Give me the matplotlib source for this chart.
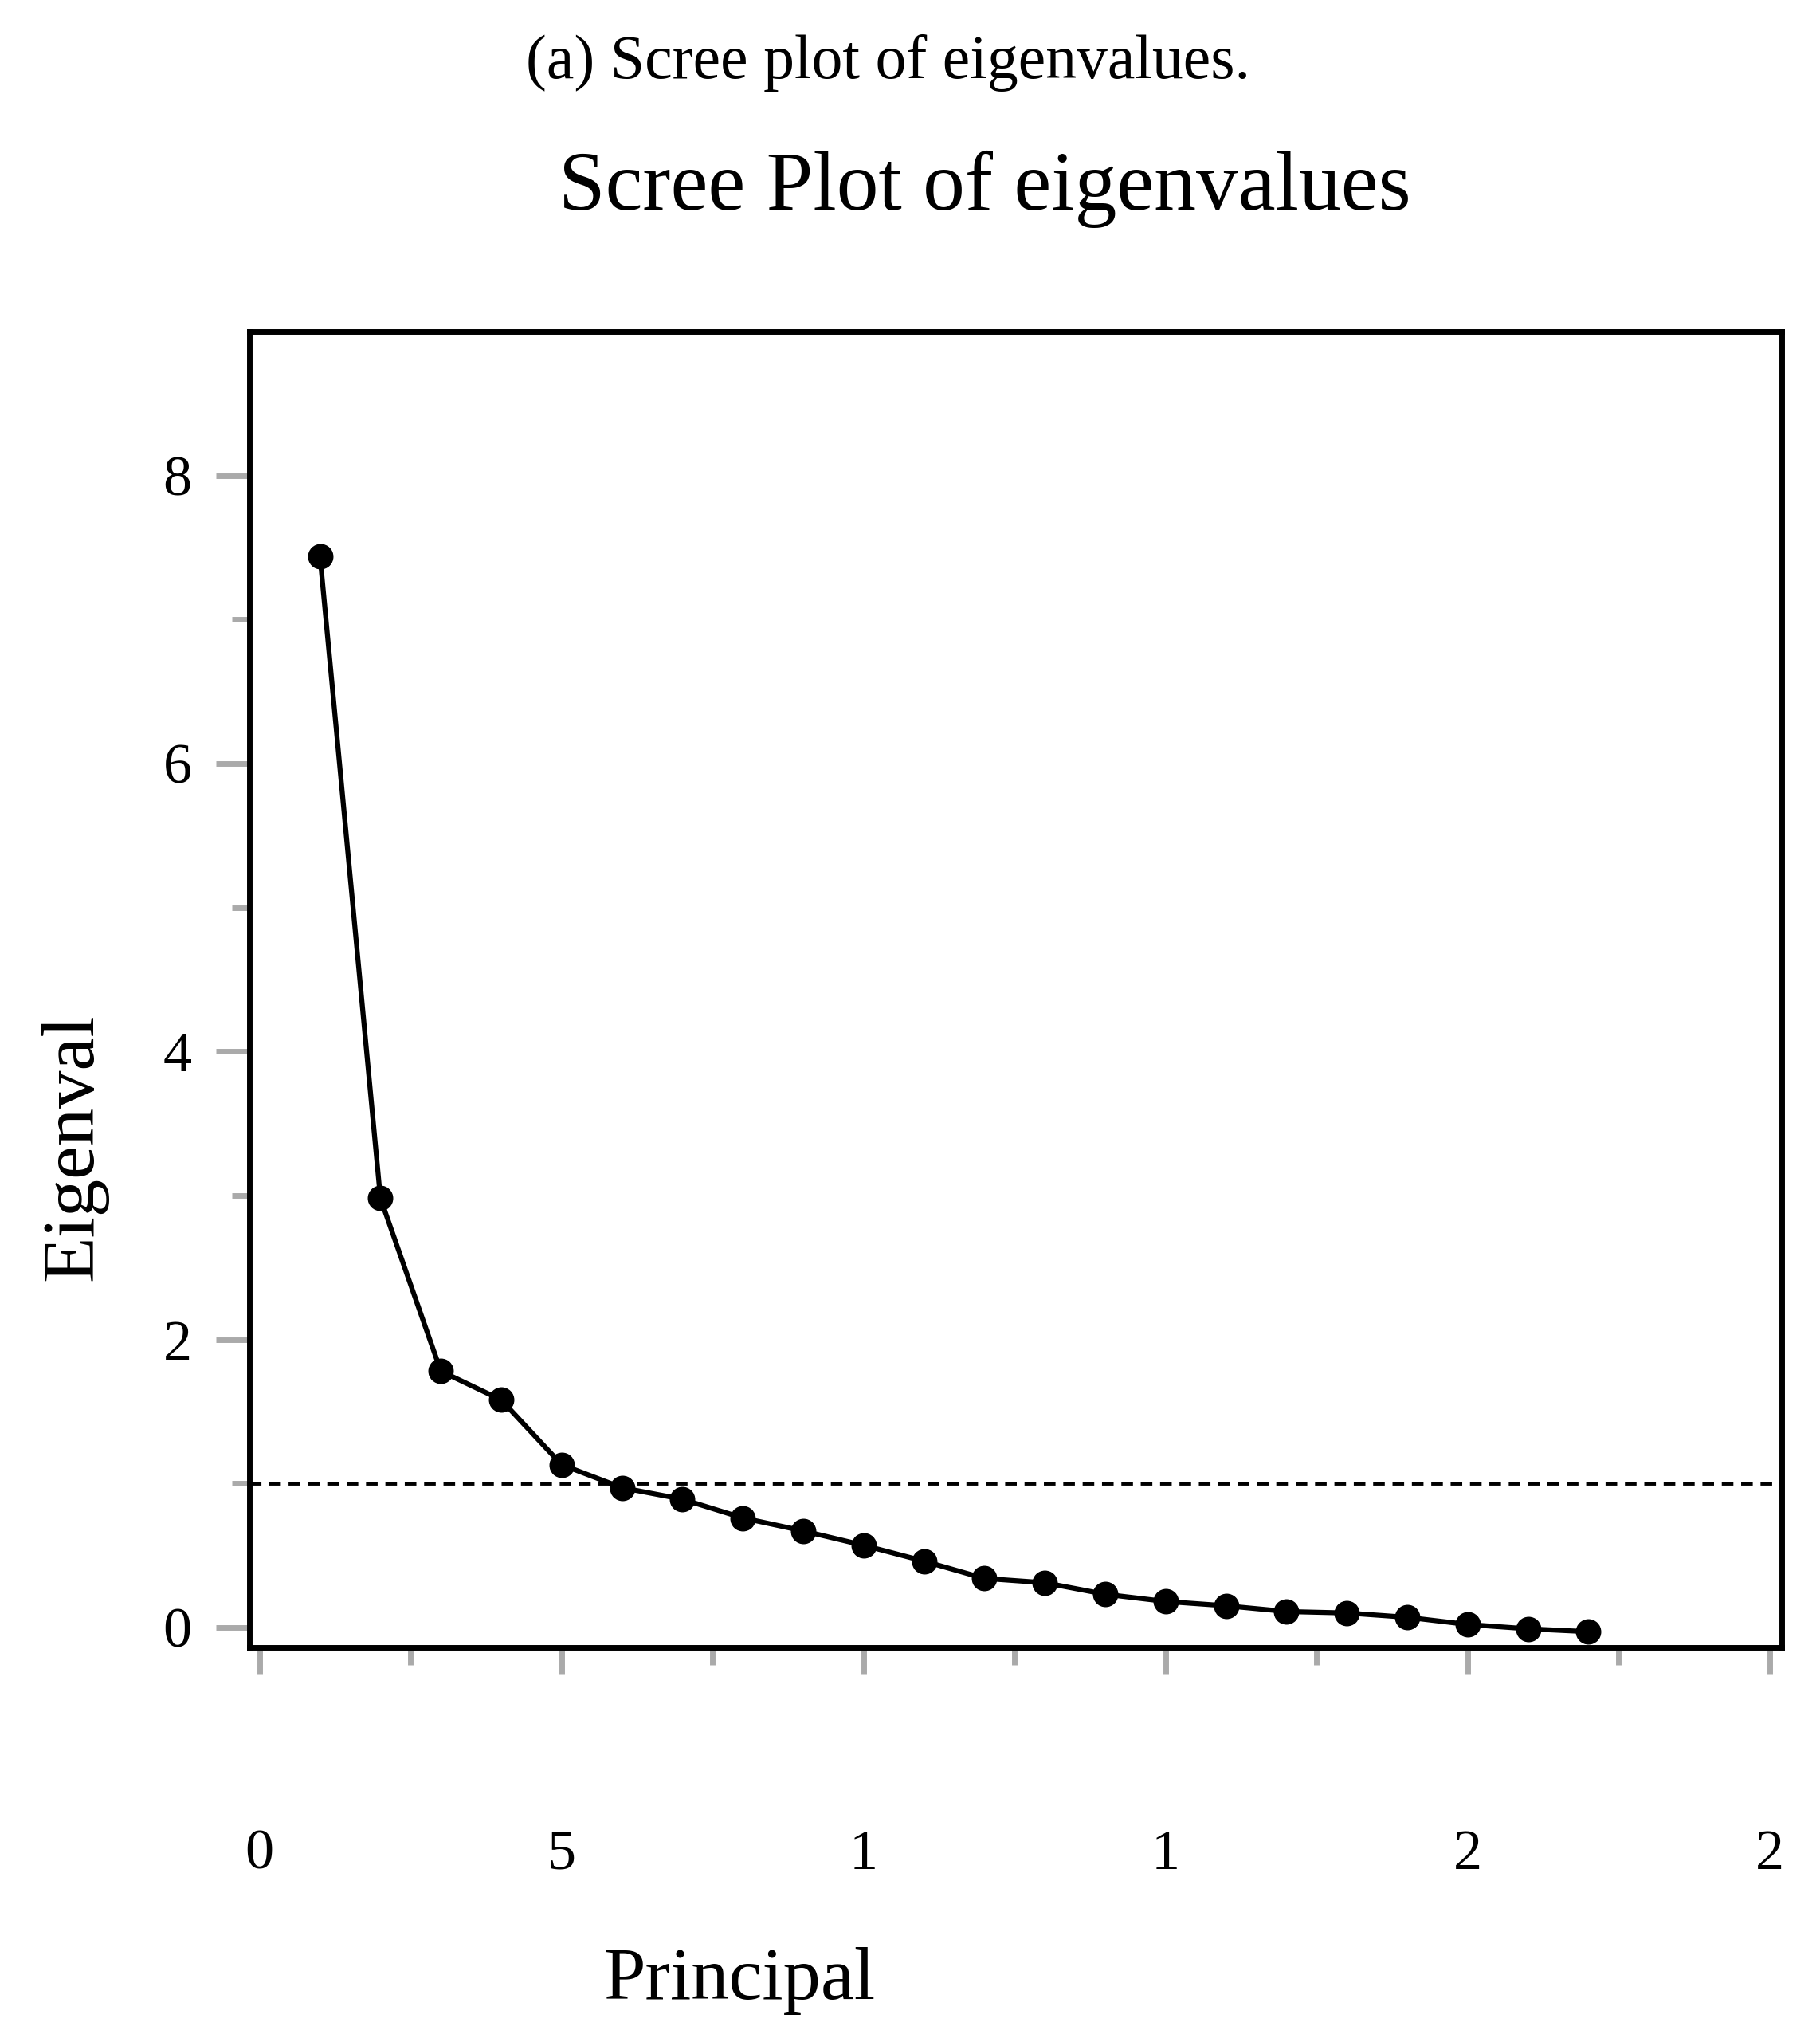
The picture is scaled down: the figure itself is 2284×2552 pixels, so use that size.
import matplotlib
matplotlib.use("Agg")
import matplotlib.pyplot as plt

# scree data
components = list(range(1, 23))
eigenvalues = [7.44, 2.98, 1.78, 1.58, 1.13, 0.97, 0.89, 0.76, 0.67, 0.57, 0.46,
               0.34, 0.31, 0.23, 0.18, 0.15, 0.11, 0.10, 0.07, 0.02, -0.01, -0.03]
xticks = [0, 5, 10, 15, 20, 25]
xtick_labels = ["0", "5", "1", "1", "2", "2"]
yticks = [0, 2, 4, 6, 8]

plt.rcParams['font.family'] = ['Liberation Serif', 'DejaVu Serif']

fig = plt.figure(figsize=(22.84, 25.52), dpi=100)
ax = fig.add_axes([0.137, 0.190, 0.842, 0.647])

ax.plot(components, eigenvalues, color='black', lw=4.5, marker='o', ms=22)
ax.axhline(1.0, color='black', lw=3.5, ls=(0, (3, 2)))

ax.set_xlim(-0.17, 25.2)
ax.set_ylim(-0.14, 9.0)
ax.set_xticks(xticks)
ax.set_xticklabels(xtick_labels)
ax.set_xticks([2.5, 7.5, 12.5, 17.5, 22.5], minor=True)
ax.set_yticks(yticks)
ax.set_yticks([1, 3, 5, 7], minor=True)
ax.tick_params(axis='x', which='major', direction='out', length=24, width=5,
               color='#aaaaaa', labelsize=52, pad=140)
ax.tick_params(axis='x', which='minor', direction='out', length=16, width=5, color='#aaaaaa')
ax.tick_params(axis='y', which='major', direction='out', length=30, width=5,
               color='#aaaaaa', labelsize=52, pad=22)
ax.tick_params(axis='y', which='minor', direction='out', length=16, width=5, color='#aaaaaa')
for s in ax.spines.values():
    s.set_linewidth(5)

ax.set_title("Scree Plot of eigenvalues", fontsize=76, pad=110, x=0.48)
ax.set_xlabel("Principal", fontsize=68, labelpad=60, x=0.32)
ax.set_ylabel("Eigenval", fontsize=68, labelpad=50, y=0.38)
fig.text(0.488, 0.969, "(a) Scree plot of eigenvalues.", fontsize=56, ha='center', va='center')

fig.savefig("out.png", dpi=100)
